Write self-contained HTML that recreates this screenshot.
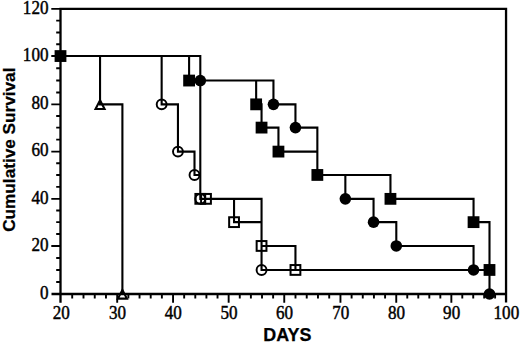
<!DOCTYPE html>
<html><head><meta charset="utf-8"><style>
html,body{margin:0;padding:0;background:#fff;}
body{width:520px;height:342px;overflow:hidden;}
svg{display:block;}
.n{font-family:"Liberation Serif",serif;font-size:18px;fill:#000;stroke:#000;stroke-width:0.45px;}
.b{font-family:"Liberation Sans",sans-serif;font-weight:bold;font-size:16.8px;fill:#000;stroke:#000;stroke-width:0.25px;}
</style></head><body>
<svg width="520" height="342" viewBox="0 0 520 342" stroke="#000" stroke-linecap="butt">
<path d="M60.50,302.7 V8.85 H506.05 V302.6 M51.5,294.00 H506.05" stroke-width="2.3" fill="none"/>
<path d="M56.2,281.98 H60.50 M56.2,269.95 H60.50 M56.2,257.95 H60.50 M51.3,245.95 H60.50 M56.2,234.05 H60.50 M56.2,222.15 H60.50 M56.2,210.50 H60.50 M51.3,198.85 H60.50 M56.2,186.90 H60.50 M56.2,174.95 H60.50 M56.2,163.27 H60.50 M51.3,151.60 H60.50 M56.2,139.60 H60.50 M56.2,127.60 H60.50 M56.2,115.97 H60.50 M51.3,104.35 H60.50 M56.2,92.45 H60.50 M56.2,80.55 H60.50 M56.2,68.30 H60.50 M51.3,56.05 H60.50 M56.2,44.25 H60.50 M56.2,32.45 H60.50 M56.2,20.65 H60.50 M51.3,8.85 H60.50 M72.20,294.00 V298.6 M83.50,294.00 V298.6 M94.75,294.00 V298.6 M105.97,294.00 V298.6 M117.20,294.00 V302.8 M128.37,294.00 V298.6 M139.54,294.00 V298.6 M150.71,294.00 V298.6 M161.88,294.00 V298.6 M173.05,294.00 V302.8 M184.17,294.00 V298.6 M195.29,294.00 V298.6 M206.41,294.00 V298.6 M217.53,294.00 V298.6 M228.65,294.00 V302.8 M239.77,294.00 V298.6 M250.89,294.00 V298.6 M262.01,294.00 V298.6 M273.13,294.00 V298.6 M284.25,294.00 V302.8 M295.49,294.00 V298.6 M306.73,294.00 V298.6 M317.97,294.00 V298.6 M329.21,294.00 V298.6 M340.45,294.00 V302.8 M351.61,294.00 V298.6 M362.77,294.00 V298.6 M373.93,294.00 V298.6 M385.09,294.00 V298.6 M396.25,294.00 V302.8 M407.27,294.00 V298.6 M418.29,294.00 V298.6 M429.31,294.00 V298.6 M440.33,294.00 V298.6 M451.35,294.00 V302.8 M462.29,294.00 V298.6 M473.23,294.00 V298.6 M484.17,294.00 V298.6 M495.11,294.00 V298.6" stroke-width="1.9" fill="none"/>
<path d="M60.50,56.05 H100.05 V104.35 H122.40 V294.00 M60.50,56.05 H161.65 V104.35 H177.95 V151.60 H194.50 V174.95 H200.30 V198.85 H261.55 V269.95 H473.55 V269.95 M60.50,56.05 H200.30 V198.85 H234.05 V222.15 H261.55 V245.95 H295.45 V269.95 M60.50,56.05 H189.10 V80.55 H256.15 V104.35 H261.55 V127.60 H278.45 V151.60 H317.35 V174.95 H390.45 V198.85 H473.55 V222.15 H489.50 V269.95 M60.50,56.05 H200.30 V80.55 H273.45 V104.35 H295.45 V127.60 H317.35 V174.95 H345.35 V198.85 H373.55 V222.15 H396.30 V245.95 H473.55 V269.95 H489.50 V294.00" stroke-width="2.1" fill="none"/>
<rect x="54.60" y="50.15" width="11.8" height="11.8" fill="#000" stroke="none"/>
<path d="M100.05,100.35 L104.55,108.95 L95.55,108.95 Z" fill="none" stroke-width="2.1" stroke-linejoin="miter"/>
<path d="M122.40,290.00 L126.90,298.60 L117.90,298.60 Z" fill="none" stroke-width="2.1" stroke-linejoin="miter"/>
<circle cx="161.65" cy="104.35" r="4.95" fill="none" stroke-width="1.95"/>
<circle cx="177.95" cy="151.60" r="4.95" fill="none" stroke-width="1.95"/>
<circle cx="194.50" cy="174.95" r="4.95" fill="none" stroke-width="1.95"/>
<circle cx="200.30" cy="198.85" r="4.95" fill="none" stroke-width="1.95"/>
<circle cx="261.55" cy="269.95" r="4.95" fill="none" stroke-width="1.95"/>
<rect x="195.40" y="193.95" width="9.8" height="9.8" fill="none" stroke-width="2"/>
<rect x="201.10" y="193.95" width="9.8" height="9.8" fill="none" stroke-width="2"/>
<rect x="229.15" y="217.25" width="9.8" height="9.8" fill="none" stroke-width="2"/>
<rect x="256.65" y="241.05" width="9.8" height="9.8" fill="none" stroke-width="2"/>
<rect x="290.55" y="265.05" width="9.8" height="9.8" fill="none" stroke-width="2"/>
<rect x="183.20" y="74.65" width="11.8" height="11.8" fill="#000" stroke="none"/>
<rect x="250.25" y="98.45" width="11.8" height="11.8" fill="#000" stroke="none"/>
<rect x="255.65" y="121.70" width="11.8" height="11.8" fill="#000" stroke="none"/>
<rect x="272.55" y="145.70" width="11.8" height="11.8" fill="#000" stroke="none"/>
<rect x="311.45" y="169.05" width="11.8" height="11.8" fill="#000" stroke="none"/>
<rect x="384.55" y="192.95" width="11.8" height="11.8" fill="#000" stroke="none"/>
<rect x="467.65" y="216.25" width="11.8" height="11.8" fill="#000" stroke="none"/>
<rect x="483.60" y="264.05" width="11.8" height="11.8" fill="#000" stroke="none"/>
<circle cx="200.30" cy="80.55" r="5.8" fill="#000" stroke="none"/>
<circle cx="273.45" cy="104.35" r="5.8" fill="#000" stroke="none"/>
<circle cx="295.45" cy="127.60" r="5.8" fill="#000" stroke="none"/>
<circle cx="345.35" cy="198.85" r="5.8" fill="#000" stroke="none"/>
<circle cx="373.55" cy="222.15" r="5.8" fill="#000" stroke="none"/>
<circle cx="396.30" cy="245.95" r="5.8" fill="#000" stroke="none"/>
<circle cx="473.55" cy="269.95" r="5.8" fill="#000" stroke="none"/>
<circle cx="489.50" cy="294.00" r="5.8" fill="#000" stroke="none"/>
<text transform="translate(48.5,298.80) scale(0.95,1)" text-anchor="end" class="n">0</text>
<text transform="translate(48.5,251.27) scale(0.95,1)" text-anchor="end" class="n">20</text>
<text transform="translate(48.5,203.74) scale(0.95,1)" text-anchor="end" class="n">40</text>
<text transform="translate(48.5,156.21) scale(0.95,1)" text-anchor="end" class="n">60</text>
<text transform="translate(48.5,108.68) scale(0.95,1)" text-anchor="end" class="n">80</text>
<text transform="translate(48.5,61.15) scale(0.95,1)" text-anchor="end" class="n">100</text>
<text transform="translate(48.5,13.62) scale(0.95,1)" text-anchor="end" class="n">120</text>
<text transform="translate(61.20,319.00) scale(0.95,1)" text-anchor="middle" class="n">20</text>
<text transform="translate(117.50,319.00) scale(0.95,1)" text-anchor="middle" class="n">30</text>
<text transform="translate(173.35,319.00) scale(0.95,1)" text-anchor="middle" class="n">40</text>
<text transform="translate(228.95,319.00) scale(0.95,1)" text-anchor="middle" class="n">50</text>
<text transform="translate(284.55,319.00) scale(0.95,1)" text-anchor="middle" class="n">60</text>
<text transform="translate(340.75,319.00) scale(0.95,1)" text-anchor="middle" class="n">70</text>
<text transform="translate(396.55,319.00) scale(0.95,1)" text-anchor="middle" class="n">80</text>
<text transform="translate(451.65,319.00) scale(0.95,1)" text-anchor="middle" class="n">90</text>
<text transform="translate(506.35,319.00) scale(0.95,1)" text-anchor="middle" class="n">100</text>
<text x="287.3" y="341" text-anchor="middle" class="b" style="font-size:17.9px">DAYS</text>
<text transform="translate(14.8,149.7) rotate(-90)" x="0" y="0" text-anchor="middle" class="b" style="font-size:17.2px">Cumulative Survival</text>
</svg>
</body></html>
